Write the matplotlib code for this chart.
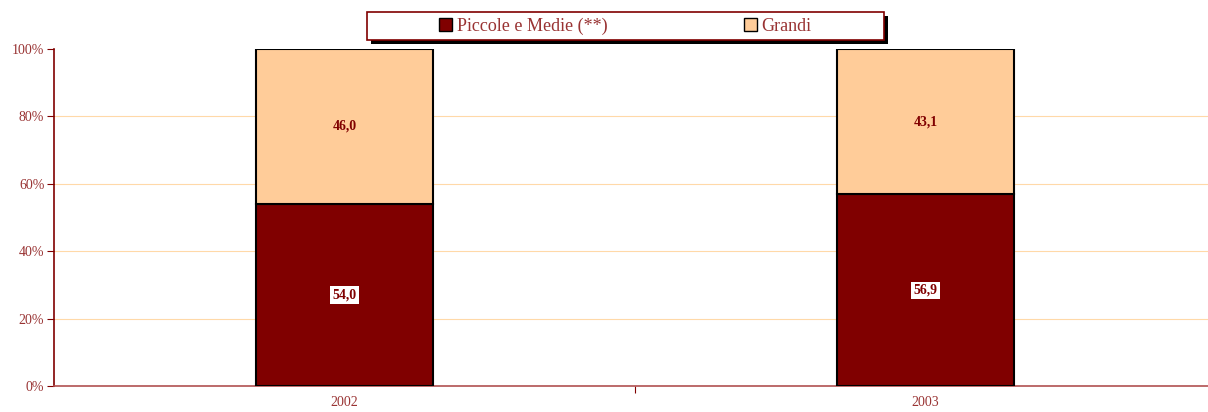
import matplotlib.pyplot as plt
from matplotlib.patches import Rectangle, Patch

plt.rcParams['font.family'] = ['Liberation Serif', 'DejaVu Serif']

# dati: quota percentuale per dimensione d'impresa
anni = ['2002', '2003']
piccole_medie = [54.0, 56.9]
grandi = [46.0, 43.1]
serie = ['Piccole e Medie (**)', 'Grandi']

col_pm = '#800000'
col_gr = '#FFCC99'
rosso = '#993333'

fig = plt.figure(figsize=(12.08, 4.12), dpi=100)
ax = fig.add_axes([54 / 1208, 1 - 386 / 412, 1162 / 1208, 337 / 412])

x = range(len(anni))
ax.bar(x, piccole_medie, width=0.303, color=col_pm, edgecolor='black', linewidth=1.5, zorder=3)
ax.bar(x, grandi, width=0.303, bottom=piccole_medie, color=col_gr, edgecolor='black',
       linewidth=1.5, zorder=3)

# etichette dei valori (virgola decimale)
for i in x:
    ax.text(i, piccole_medie[i] / 2, f'{piccole_medie[i]:.1f}'.replace('.', ','),
            ha='center', va='center', fontsize=10, fontweight='bold', color=col_pm,
            bbox=dict(facecolor='white', edgecolor='none', pad=1.5), zorder=4)
    ax.text(i, piccole_medie[i] + grandi[i] / 2, f'{grandi[i]:.1f}'.replace('.', ','),
            ha='center', va='center', fontsize=10, fontweight='bold', color=col_pm, zorder=4)

ax.set_xlim(-0.5, 1.5)
ax.set_ylim(0, 100)
ax.set_yticks(range(0, 101, 20))
ax.set_yticklabels([f'{v}%' for v in range(0, 101, 20)])
ax.set_xticks([0.5])
ax.set_xticklabels([''])
ax.set_xticks(list(x), minor=True)
ax.set_xticklabels(anni, minor=True)
ax.tick_params(axis='x', which='minor', length=0, pad=7, labelsize=10, labelcolor=rosso)
ax.tick_params(axis='x', which='major', length=5, color=col_pm)
ax.tick_params(axis='y', length=5, color=col_pm, labelsize=10, labelcolor=rosso, pad=2)

# griglia orizzontale solo per i valori intermedi
for v in range(20, 100, 20):
    ax.axhline(v, color='#FFD9A8', linewidth=0.8, zorder=0)
for s in ['top', 'right']:
    ax.spines[s].set_visible(False)
ax.spines['left'].set_color(col_pm)
ax.spines['left'].set_linewidth(1.2)
ax.spines['bottom'].set_color('#B05050')
ax.spines['bottom'].set_linewidth(1.2)

# riquadro della legenda con ombra
bx, by, bw, bh = 367 / 1208, 1 - 40 / 412, 517 / 1208, 28 / 412
fig.patches.append(Rectangle((bx + 4 / 1208, by - 4 / 412), bw, bh, transform=fig.transFigure,
                             facecolor='black', edgecolor='none', zorder=1))
fig.patches.append(Rectangle((bx, by), bw, bh, transform=fig.transFigure,
                             facecolor='white', edgecolor=col_pm, linewidth=1.2, zorder=2))
handles = [Patch(facecolor=col_pm, edgecolor='black'), Patch(facecolor=col_gr, edgecolor='black')]
leg = fig.legend(handles, serie, ncol=2, loc='center', bbox_to_anchor=(bx + bw / 2, by + bh / 2),
                 frameon=False, fontsize=13, handlelength=0.7, handleheight=0.7,
                 handletextpad=0.25, columnspacing=7.6, labelcolor=rosso, borderpad=0)
leg.set_zorder(3)

fig.savefig('out.png', dpi=100)
